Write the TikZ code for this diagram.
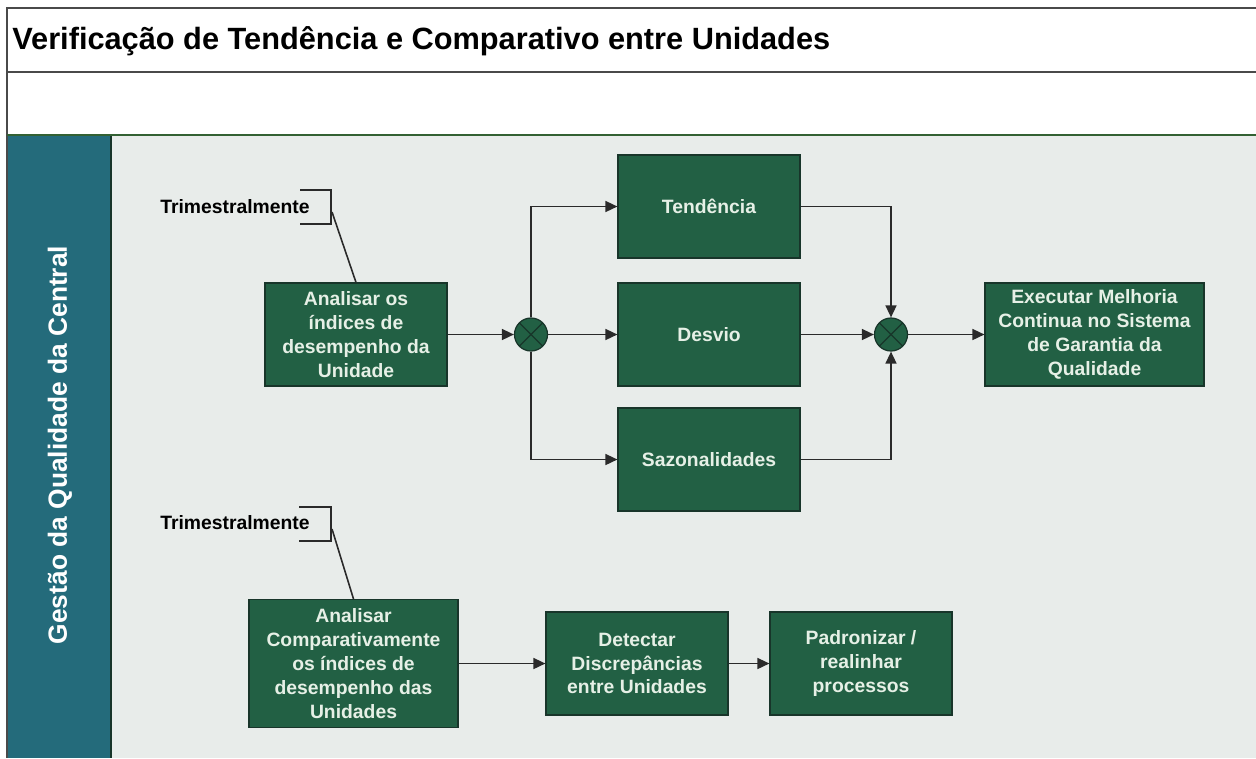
\documentclass[tikz,border=0pt]{standalone}
\usepackage{fontspec}
\setmainfont{Liberation Sans}
\usetikzlibrary{arrows.meta}
\definecolor{boxgreen}{HTML}{226044}
\definecolor{boxedge}{HTML}{18352A}
\definecolor{boxtext}{HTML}{E6F0E6}
\definecolor{lane}{HTML}{246B7B}
\definecolor{bodybg}{HTML}{E8ECEA}
\definecolor{frameline}{HTML}{4A4A4A}
\definecolor{conn}{HTML}{2A2A2A}
\tikzset{
  procbox/.style={draw=boxedge, line width=0.7pt, fill=boxgreen, text=boxtext,
    align=center, inner sep=1pt, font=\bfseries\fontsize{11}{13.6}\selectfont,
    minimum width=3.64cm, minimum height=2.06cm},
  junction/.style={circle, draw=boxedge, line width=0.7pt, fill=boxgreen,
    minimum size=0.66cm, inner sep=0pt,
    path picture={\draw[boxedge, line width=0.7pt]
      (path picture bounding box.north west) -- (path picture bounding box.south east)
      (path picture bounding box.north east) -- (path picture bounding box.south west);}},
  flow/.style={draw=conn, line width=0.9pt, -{Triangle[length=0.24cm,width=0.22cm]}},
  plainline/.style={draw=conn, line width=0.9pt},
  notetext/.style={font=\bfseries\fontsize{11}{13}\selectfont, text=black, inner sep=0pt},
}
\begin{document}
\begin{tikzpicture}[x=0.02cm, y=-0.02cm]
\useasboundingbox (0,0) rectangle (1256,758);
% backgrounds
\fill[white] (0,0) rectangle (1256,758);
\fill[bodybg] (8,136) rectangle (1256,758);
\fill[lane] (8,136) rectangle (111,758);
\draw[boxedge, line width=0.8pt] (111,136) -- (111,758);
% frame
\draw[frameline, line width=1.3pt] (1256,8) -- (7,8) -- (7,758);
\draw[frameline, line width=1.3pt] (7,72) -- (1256,72);
\draw[black!70!green!60!gray, line width=1.3pt] (7,135) -- (1256,135);
% title
\node[anchor=west, font=\bfseries\fontsize{17.5}{20}\selectfont, inner sep=0pt] (title) at (12,41) {Verificação de Tendência e Comparativo entre Unidades};
% lane label
\node[rotate=90, text=white, font=\bfseries\fontsize{15}{18}\selectfont, inner sep=0pt] (lanelabel) at (60,445) {Gestão da Qualidade da Central};
% top process
\node[procbox] (a1) at (356,334.5) {Analisar os\\índices de\\desempenho da\\Unidade};
\node[procbox, minimum width=3.64cm] (tend) at (709,206.5) {Tendência};
\node[procbox, minimum width=3.64cm] (desv) at (709,334.5) {Desvio};
\node[procbox, minimum width=3.64cm] (saz) at (709,459.5) {Sazonalidades};
\node[procbox, minimum width=4.38cm] (exec) at (1094.5,334.5) {Executar Melhoria\\Continua no Sistema\\de Garantia da\\Qualidade};
\node[junction] (j1) at (531,334.5) {};
\node[junction] (j2) at (891,334.5) {};
\draw[flow] (a1) -- (j1);
\draw[flow] (j1) |- (tend);
\draw[flow] (j1) -- (desv);
\draw[flow] (j1) |- (saz);
\draw[flow] (tend) -| (j2);
\draw[flow] (desv) -- (j2);
\draw[flow] (saz) -| (j2);
\draw[flow] (j2) -- (exec);
% note 1
\node[notetext] (note1) at (235,207) {Trimestralmente};
\coordinate (b1a) at (300,190);
\coordinate (b1b) at (331,190);
\coordinate (b1c) at (331,224);
\coordinate (b1d) at (300,224);
\coordinate (b1m) at (332,212);
\draw[plainline] (b1a) -- (b1b) -- (b1c) -- (b1d);
\draw[plainline] (b1m) -- (a1.north);
% bottom process
\node[procbox, minimum width=4.18cm, minimum height=2.56cm] (a2) at (353.5,663.5) {Analisar\\Comparativamente\\os índices de\\desempenho das\\Unidades};
\node[procbox, minimum width=3.64cm, minimum height=2.06cm] (det) at (637,663.5) {Detectar\\Discrepâncias\\entre Unidades};
\node[procbox, minimum width=3.64cm, minimum height=2.06cm] (pad) at (861,663.5) {Padronizar /\\realinhar\\processos};
\draw[flow] (a2) -- (det);
\draw[flow] (det) -- (pad);
% note 2
\node[notetext] (note2) at (235,523) {Trimestralmente};
\coordinate (b2a) at (299,507);
\coordinate (b2b) at (331,507);
\coordinate (b2c) at (331,541);
\coordinate (b2d) at (299,541);
\coordinate (b2m) at (332,529);
\draw[plainline] (b2a) -- (b2b) -- (b2c) -- (b2d);
\draw[plainline] (b2m) -- (a2.north);
\end{tikzpicture}
\end{document}
